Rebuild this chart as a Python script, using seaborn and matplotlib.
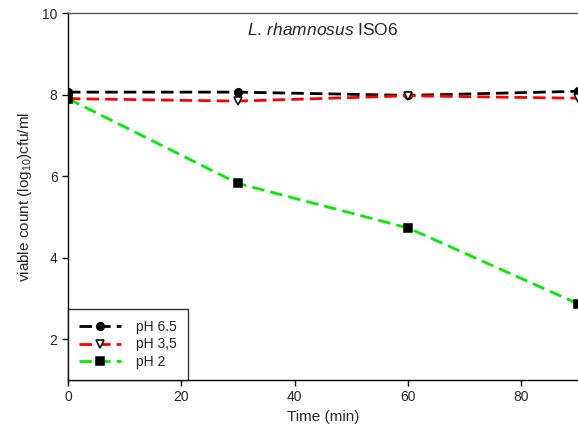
import matplotlib
matplotlib.use('Agg')
import matplotlib.pyplot as plt
import seaborn as sns
import pandas as pd

# Data
time_min = [0, 30, 60, 90]
ph65 = [8.06, 8.06, 7.98, 8.08]
ph35 = [7.90, 7.84, 7.97, 7.91]
ph2 = [7.90, 5.82, 4.73, 2.87]

series_labels = ['pH 6.5', 'pH 3,5', 'pH 2']
series_colors = ['black', '#ff0000', '#00ee00']

sns.set_style('white')
plt.rcParams['font.family'] = ['Liberation Sans', 'DejaVu Sans']
plt.rcParams['mathtext.fontset'] = 'custom'
plt.rcParams['mathtext.rm'] = 'Liberation Sans'
plt.rcParams['mathtext.it'] = 'Liberation Sans:italic'

df = pd.DataFrame({'time': time_min * 3,
                   'value': ph65 + ph35 + ph2,
                   'series': [series_labels[0]] * 4 + [series_labels[1]] * 4 + [series_labels[2]] * 4})

fig = plt.figure(figsize=(5.78, 4.38), dpi=100)
ax = fig.add_axes([0.1176, 0.1324, 0.8824, 0.8379])

marker_style = {
    'pH 6.5': dict(marker='o', markerfacecolor='black', markeredgecolor='black'),
    'pH 3,5': dict(marker='v', markerfacecolor='white', markeredgecolor='black'),
    'pH 2': dict(marker='s', markerfacecolor='black', markeredgecolor='black'),
}

for lab, col in zip(series_labels, series_colors):
    sub = df[df['series'] == lab]
    sns.lineplot(data=sub, x='time', y='value', ax=ax, color=col, label=lab,
                 linestyle=(0, (4.5, 2.2)), linewidth=2, markersize=5.5,
                 markeredgewidth=1.1, **marker_style[lab])

ax.set_xlim(0, 90)
ax.set_ylim(1, 10)
ax.set_xticks([0, 20, 40, 60, 80])
ax.set_yticks([2, 4, 6, 8, 10])
ax.tick_params(axis='both', direction='out', length=4, width=1, labelsize=10,
               bottom=True, left=True, top=False, right=False, color='black')
for side in ['left', 'bottom', 'top']:
    ax.spines[side].set_visible(True)
    ax.spines[side].set_color('black')
    ax.spines[side].set_linewidth(1)
ax.spines['right'].set_visible(False)
ax.spines['top'].set_color('#555555')

ax.set_xlabel('Time (min)', fontsize=11, labelpad=4)
ax.set_ylabel(r'viable count (log$_{10}$)cfu/ml', fontsize=11, labelpad=6)

ax.text(0.5, 0.975, r'$\it{L.\,rhamnosus}$ ISO6', transform=ax.transAxes,
        ha='center', va='top', fontsize=12.5)

leg = ax.legend(loc='lower left', bbox_to_anchor=(0, 0), borderaxespad=0,
                frameon=True, fancybox=False, fontsize=10, handlelength=3.0,
                handletextpad=1.1, borderpad=0.8, labelspacing=0.25)
leg.get_frame().set_edgecolor('black')
leg.get_frame().set_linewidth(1)

fig.savefig('out.png', dpi=100)
